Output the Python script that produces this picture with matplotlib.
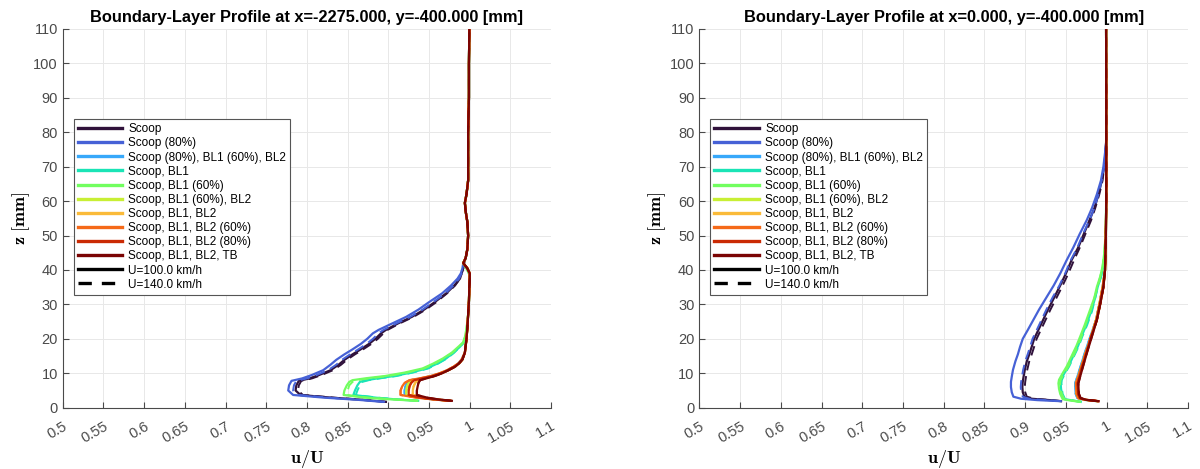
import numpy as np
import matplotlib
matplotlib.use('Agg')
from matplotlib import pyplot as plt
from matplotlib.lines import Line2D

plt.rcParams['font.family'] = ['Liberation Sans', 'DejaVu Sans']
plt.rcParams['mathtext.fontset'] = 'cm'

configs = ['Scoop', 'Scoop (80%)', 'Scoop (80%), BL1 (60%), BL2', 'Scoop, BL1',
           'Scoop, BL1 (60%)', 'Scoop, BL1 (60%), BL2', 'Scoop, BL1, BL2',
           'Scoop, BL1, BL2 (60%)', 'Scoop, BL1, BL2 (80%)', 'Scoop, BL1, BL2, TB']
speeds = ['U=100.0 km/h', 'U=140.0 km/h']
titles = ['Boundary-Layer Profile at x=-2275.000, y=-400.000 [mm]',
          'Boundary-Layer Profile at x=0.000, y=-400.000 [mm]']
x_ticks = [0.5, 0.55, 0.6, 0.65, 0.7, 0.75, 0.8, 0.85, 0.9, 0.95, 1.0, 1.05, 1.1]
y_ticks = [0, 10, 20, 30, 40, 50, 60, 70, 80, 90, 100, 110]

# ---- x = -2275 ----
L_z_free = [43.5, 46.0, 50.0, 54.0, 57.0, 59.5, 62.0, 66.0, 72.0, 80.0, 90.0, 100.0, 110.0]
L_u_free = [0.995, 0.997, 0.998, 0.997, 0.995, 0.994, 0.996, 0.998, 0.998, 0.998, 0.999, 0.999, 0.9995]

L_z_a = [1.7, 2.3, 2.9, 3.7, 5.0, 6.5, 7.8, 8.5, 9.5, 10.9, 12.5, 13.9, 15.5, 16.8,
         18.5, 20.0, 21.6, 22.6, 24.5, 26.4, 28.5, 30.5, 33.2, 35.5, 37.5, 39.0, 40.5, 42.0]
L_scoop_100 = [0.897, 0.868, 0.831, 0.792, 0.786, 0.787, 0.790, 0.803, 0.815, 0.829, 0.839, 0.846,
               0.856, 0.865, 0.876, 0.884, 0.891, 0.897, 0.912, 0.929, 0.944, 0.956, 0.971, 0.981,
               0.988, 0.990, 0.992, 0.993]
L_scoop_140 = [0.898, 0.870, 0.834, 0.795, 0.789, 0.790, 0.793, 0.806, 0.818, 0.832, 0.842, 0.849,
               0.859, 0.868, 0.879, 0.887, 0.894, 0.899, 0.914, 0.931, 0.946, 0.958, 0.972, 0.982,
               0.988, 0.990, 0.992, 0.993]
L_scoop80_100 = [0.893, 0.862, 0.822, 0.783, 0.777, 0.778, 0.781, 0.794, 0.806, 0.820, 0.829, 0.836,
                 0.846, 0.855, 0.866, 0.874, 0.881, 0.888, 0.905, 0.922, 0.937, 0.949, 0.966, 0.977,
                 0.985, 0.989, 0.991, 0.992]
L_scoop80_140 = [0.896, 0.866, 0.828, 0.789, 0.783, 0.784, 0.787, 0.800, 0.812, 0.826, 0.836, 0.843,
                 0.853, 0.862, 0.873, 0.881, 0.888, 0.894, 0.910, 0.927, 0.942, 0.954, 0.970, 0.980,
                 0.987, 0.990, 0.992, 0.993]

L_z_b = [2.0, 2.4, 2.9, 3.7, 5.0, 6.5, 7.5, 8.0, 8.6, 9.2, 10.2, 11.4, 12.8, 14.3, 16.0, 17.7,
         19.0, 20.5, 23.0, 27.0, 31.0, 35.0, 37.5, 39.0, 40.5, 42.0]
L_bl1_100 = [0.936, 0.910, 0.885, 0.857, 0.859, 0.862, 0.865, 0.873, 0.889, 0.907, 0.928, 0.947,
             0.960, 0.971, 0.980, 0.988, 0.993, 0.995, 0.997, 0.998, 0.999, 0.9995, 1.0, 0.999,
             0.996, 0.992]
L_bl1_140 = [0.938, 0.913, 0.888, 0.860, 0.862, 0.865, 0.868, 0.876, 0.892, 0.910, 0.930, 0.949,
             0.961, 0.972, 0.981, 0.988, 0.993, 0.995, 0.997, 0.998, 0.999, 0.9995, 1.0, 0.999,
             0.996, 0.992]
L_bl160_100 = [0.935, 0.905, 0.872, 0.845, 0.846, 0.849, 0.852, 0.856, 0.874, 0.896, 0.920, 0.942,
               0.955, 0.967, 0.978, 0.986, 0.992, 0.994, 0.996, 0.998, 0.999, 0.9995, 1.0, 0.999,
               0.996, 0.992]
L_bl160_140 = [0.937, 0.908, 0.876, 0.849, 0.850, 0.852, 0.856, 0.861, 0.879, 0.900, 0.923, 0.944,
               0.957, 0.968, 0.979, 0.987, 0.992, 0.994, 0.996, 0.998, 0.999, 0.9995, 1.0, 0.999,
               0.996, 0.992]

L_z_c = [2.0, 2.4, 2.9, 3.7, 5.0, 6.2, 7.2, 8.0, 8.6, 9.2, 10.0, 10.9, 11.9, 12.9, 14.0, 16.0,
         18.0, 20.0, 23.0, 27.0, 31.0, 35.0, 37.5, 39.0, 40.5, 42.0]
L_bl2_lb = [0.975, 0.956, 0.938, 0.920, 0.920, 0.921, 0.923, 0.928, 0.942, 0.953, 0.964, 0.973,
            0.981, 0.986, 0.990, 0.994, 0.995, 0.996, 0.997, 0.998, 0.999, 0.9995, 1.0, 1.0,
            0.997, 0.992]
L_bl2_yg = [0.976, 0.957, 0.940, 0.922, 0.922, 0.923, 0.925, 0.930, 0.943, 0.954, 0.965, 0.973,
            0.981, 0.987, 0.991, 0.994, 0.995, 0.996, 0.997, 0.998, 0.999, 0.9995, 1.0, 1.0,
            0.997, 0.992]
L_bl2_y = [0.977, 0.959, 0.944, 0.930, 0.930, 0.931, 0.933, 0.936, 0.946, 0.956, 0.965, 0.974,
           0.982, 0.987, 0.991, 0.994, 0.995, 0.996, 0.997, 0.998, 0.999, 0.9995, 1.0, 1.0,
           0.997, 0.992]
L_bl2_o = [0.975, 0.955, 0.935, 0.915, 0.915, 0.917, 0.920, 0.926, 0.940, 0.952, 0.963, 0.972,
           0.980, 0.986, 0.990, 0.994, 0.995, 0.996, 0.997, 0.998, 0.999, 0.9995, 1.0, 1.0,
           0.997, 0.992]
L_bl2_r = [0.976, 0.958, 0.940, 0.925, 0.925, 0.926, 0.928, 0.932, 0.944, 0.955, 0.965, 0.973,
           0.981, 0.987, 0.991, 0.994, 0.995, 0.996, 0.997, 0.998, 0.999, 0.9995, 1.0, 1.0,
           0.997, 0.992]
L_bl2_tb = [0.978, 0.962, 0.948, 0.935, 0.935, 0.936, 0.937, 0.939, 0.948, 0.957, 0.966, 0.974,
            0.982, 0.987, 0.991, 0.994, 0.995, 0.996, 0.997, 0.998, 0.999, 0.9995, 1.0, 1.0,
            0.997, 0.992]

# ---- x = 0 ----
R_z_free = [80.0, 90.0, 100.0, 110.0]
R_u_free = [0.9995, 0.9995, 0.9994, 0.9993]

R_z_a = [1.9, 2.2, 2.6, 3.2, 4.5, 6.0, 7.5, 9.0, 11.0, 13.5, 15.5, 17.7, 20.0, 22.5, 25.5,
         28.5, 32.2, 35.5, 39.0, 42.9, 46.5, 50.5, 54.5, 58.0, 62.0, 66.0, 70.0, 74.0, 77.0]
R_scoop_100 = [0.944, 0.930, 0.908, 0.899, 0.897, 0.8965, 0.897, 0.898, 0.8995, 0.902, 0.905,
               0.908, 0.911, 0.916, 0.922, 0.928, 0.936, 0.943, 0.950, 0.957, 0.965, 0.972,
               0.979, 0.985, 0.990, 0.994, 0.997, 0.9985, 0.9993]
R_scoop_140 = [0.945, 0.932, 0.911, 0.902, 0.900, 0.8995, 0.900, 0.901, 0.9025, 0.905, 0.908,
               0.911, 0.914, 0.919, 0.925, 0.931, 0.939, 0.946, 0.953, 0.960, 0.967, 0.974,
               0.981, 0.986, 0.991, 0.995, 0.997, 0.9985, 0.9993]
R_scoop80_100 = [0.943, 0.915, 0.895, 0.8855, 0.8835, 0.8825, 0.8825, 0.8835, 0.885, 0.888,
                 0.891, 0.8937, 0.897, 0.903, 0.910, 0.917, 0.9265, 0.935, 0.943, 0.951, 0.959,
                 0.967, 0.9756, 0.982, 0.988, 0.993, 0.996, 0.998, 0.9993]
R_scoop80_140 = [0.945, 0.925, 0.905, 0.897, 0.895, 0.8945, 0.895, 0.896, 0.8975, 0.900, 0.903,
                 0.906, 0.909, 0.914, 0.920, 0.926, 0.934, 0.942, 0.949, 0.956, 0.964, 0.971,
                 0.979, 0.985, 0.990, 0.994, 0.997, 0.9985, 0.9993]

R_z_b = [1.7, 2.1, 2.5, 4.0, 5.5, 7.1, 8.1, 10.0, 12.0, 15.0, 18.0, 20.6, 24.0, 28.0, 32.0,
         35.1, 38.0, 41.0, 44.8, 48.0, 55.0, 65.0, 72.0, 77.0]
R_bl1_100 = [0.968, 0.958, 0.948, 0.945, 0.944, 0.9435, 0.944, 0.948, 0.953, 0.959, 0.965,
             0.969, 0.975, 0.981, 0.986, 0.989, 0.993, 0.996, 0.998, 0.999, 0.9992, 0.9995,
             0.9995, 0.9995]
R_bl1_140 = [0.969, 0.959, 0.949, 0.946, 0.945, 0.9445, 0.945, 0.949, 0.954, 0.960, 0.966,
             0.970, 0.976, 0.982, 0.986, 0.989, 0.993, 0.996, 0.998, 0.999, 0.9992, 0.9995,
             0.9995, 0.9995]
R_bl160_100 = [0.9674, 0.955, 0.946, 0.943, 0.9415, 0.9408, 0.9415, 0.946, 0.951, 0.957, 0.963,
               0.9674, 0.973, 0.979, 0.985, 0.988, 0.992, 0.995, 0.997, 0.998, 0.9992, 0.9995,
               0.9995, 0.9995]
R_bl160_140 = [0.968, 0.957, 0.948, 0.945, 0.9435, 0.9428, 0.9435, 0.948, 0.953, 0.959, 0.965,
               0.969, 0.974, 0.980, 0.985, 0.989, 0.992, 0.995, 0.997, 0.998, 0.9992, 0.9995,
               0.9995, 0.9995]

R_z_c = [1.9, 2.3, 2.8, 4.0, 5.5, 7.1, 9.0, 12.0, 15.8, 20.0, 25.5, 30.0, 35.0, 40.0, 44.8,
         50.0, 60.0, 70.0, 77.0]
R_bl2_lb = [0.988, 0.972, 0.964, 0.962, 0.9615, 0.9613, 0.964, 0.968, 0.973, 0.979, 0.987,
            0.991, 0.995, 0.998, 0.9985, 0.999, 0.9995, 0.9995, 0.9995]
R_bl2_yg = [0.988, 0.973, 0.965, 0.963, 0.9625, 0.9623, 0.965, 0.969, 0.974, 0.980, 0.987,
            0.991, 0.995, 0.998, 0.9985, 0.999, 0.9995, 0.9995, 0.9995]
R_bl2_y = [0.989, 0.974, 0.966, 0.964, 0.9635, 0.9633, 0.966, 0.970, 0.975, 0.980, 0.988,
           0.992, 0.996, 0.998, 0.9985, 0.999, 0.9995, 0.9995, 0.9995]
R_bl2_o = [0.989, 0.973, 0.965, 0.963, 0.9625, 0.9623, 0.965, 0.969, 0.974, 0.980, 0.987,
           0.991, 0.995, 0.998, 0.9985, 0.999, 0.9995, 0.9995, 0.9995]
R_bl2_r = [0.990, 0.974, 0.967, 0.965, 0.9645, 0.9643, 0.9665, 0.970, 0.975, 0.980, 0.988,
           0.992, 0.996, 0.998, 0.9985, 0.999, 0.9995, 0.9995, 0.9995]
R_bl2_tb = [0.990, 0.975, 0.968, 0.966, 0.9655, 0.9653, 0.9674, 0.971, 0.9756, 0.981, 0.988,
            0.992, 0.996, 0.998, 0.9985, 0.999, 0.9995, 0.9995, 0.9995]

left_series = [(L_z_a, L_scoop_100, L_scoop_140), (L_z_a, L_scoop80_100, L_scoop80_140),
               (L_z_c, L_bl2_lb, L_bl2_lb), (L_z_b, L_bl1_100, L_bl1_140),
               (L_z_b, L_bl160_100, L_bl160_140), (L_z_c, L_bl2_yg, L_bl2_yg),
               (L_z_c, L_bl2_y, L_bl2_y), (L_z_c, L_bl2_o, L_bl2_o),
               (L_z_c, L_bl2_r, L_bl2_r), (L_z_c, L_bl2_tb, L_bl2_tb)]
right_series = [(R_z_a, R_scoop_100, R_scoop_140), (R_z_a, R_scoop80_100, R_scoop80_140),
                (R_z_c, R_bl2_lb, R_bl2_lb), (R_z_b, R_bl1_100, R_bl1_140),
                (R_z_b, R_bl160_100, R_bl160_140), (R_z_c, R_bl2_yg, R_bl2_yg),
                (R_z_c, R_bl2_y, R_bl2_y), (R_z_c, R_bl2_o, R_bl2_o),
                (R_z_c, R_bl2_r, R_bl2_r), (R_z_c, R_bl2_tb, R_bl2_tb)]

colores = plt.cm.turbo(np.linspace(0, 1, len(configs)))
gris = '#4a4a4a'


def dibuja_panel(ax, series, z_free, u_free, titulo):
    for i, (z, u100, u140) in enumerate(series):
        zz = np.concatenate([z, z_free])
        ax.plot(np.concatenate([u100, u_free]), zz, color=colores[i], lw=1.6, zorder=3 + i)
        ax.plot(np.concatenate([u140, u_free]), zz, color=colores[i], lw=1.4,
                dashes=(5, 3), zorder=3 + i)
    ax.set_xlim(0.5, 1.1)
    ax.set_ylim(0, 110)
    ax.set_xticks(x_ticks)
    ax.set_xticklabels(['%g' % t for t in x_ticks], rotation=30, ha='right',
                       rotation_mode='anchor', va='top')
    ax.set_yticks(y_ticks)
    ax.tick_params(direction='in', length=4, color=gris, labelcolor=gris, labelsize=10.5,
                   width=0.8)
    ax.tick_params(axis='x', pad=8)
    for s in ['top', 'right']:
        ax.spines[s].set_visible(False)
    for s in ['left', 'bottom']:
        ax.spines[s].set_color(gris)
        ax.spines[s].set_linewidth(0.8)
    ax.grid(True, color='#e8e8e8', lw=0.7, zorder=0)
    ax.set_axisbelow(True)
    ax.set_title(titulo, fontsize=11.8, fontweight='bold', pad=5)
    ax.set_xlabel(r'$\mathbf{u/U}$', fontsize=13, labelpad=2)
    ax.set_ylabel(r'$\mathbf{z\ [mm]}$', fontsize=13, labelpad=1)
    handles = [Line2D([], [], color=c, lw=2.4) for c in colores]
    handles.append(Line2D([], [], color='black', lw=2.4))
    handles.append(Line2D([], [], color='black', lw=2.4, dashes=(4, 3)))
    leg = ax.legend(handles, configs + speeds, loc='upper left', bbox_to_anchor=(0.022, 0.762),
                    fontsize=8.5, handlelength=3.8, labelspacing=0.18, borderpad=0.35,
                    handletextpad=0.5, fancybox=False, framealpha=1, borderaxespad=0)
    leg.get_frame().set_edgecolor('#555555')
    leg.get_frame().set_linewidth(0.8)
    leg.set_zorder(20)


fig = plt.figure(figsize=(12, 4.69), dpi=100)
ax1 = fig.add_axes([0.0523, 0.1307, 0.407, 0.8075])
ax2 = fig.add_axes([0.5828, 0.1307, 0.4073, 0.8075])
dibuja_panel(ax1, left_series, L_z_free, L_u_free, titles[0])
dibuja_panel(ax2, right_series, R_z_free, R_u_free, titles[1])
fig.savefig('out.png', dpi=100)
